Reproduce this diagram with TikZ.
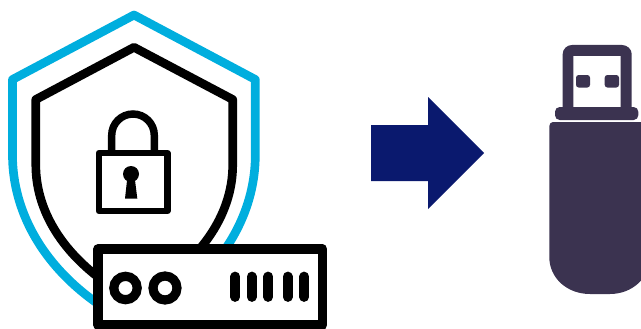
\documentclass[tikz,border=0pt]{standalone}
\definecolor{shieldblue}{RGB}{0,174,222}
\definecolor{navyarrow}{RGB}{10,25,110}
\definecolor{usbdark}{RGB}{59,51,80}
\tikzset{
  x=0.75pt,y=-0.75pt,
  blk/.style={draw=black,line join=round}
}
\begin{document}
\begin{tikzpicture}
\useasboundingbox (0,0) rectangle (641,328);
\clip (0,0) rectangle (641,328);
% blue shield
\draw[draw=shieldblue,line width=6.5pt,line join=round]
  (12.5,79.5) -- (134,15) -- (255.3,79.5) -- (255.3,155)
  .. controls (255.3,220) and (215,285) .. (134,325)
  .. controls (53,285) and (12.5,220) .. (12.5,155) -- cycle;
% black shield
\draw[blk,line width=6.5pt]
  (35.8,99.5) -- (134,47.3) -- (232.7,99.5) -- (232.7,165)
  .. controls (232.7,215) and (200,265) .. (134,300)
  .. controls (68,265) and (35.8,215) .. (35.8,165) -- cycle;
% lock
\draw[blk,line width=4.6pt] (98.7,153) rectangle (167.5,211);
\draw[black,line width=5.6pt] (111.7,150) -- (111.7,135.3) arc[start angle=180,end angle=360,radius=21.3] -- (154.3,150);
\fill[black] (131,174) circle[radius=8];
\fill[black] (127.5,176) -- (134.5,176) -- (137.3,198.5) -- (125,198.5) -- cycle;
% server
\draw[blk,line width=7.2pt,fill=white] (98,249) rectangle (322.3,325);
\draw[line width=6.9pt] (125.5,288) circle[radius=11.7];
\draw[line width=6.9pt] (165,288) circle[radius=12];
\foreach \bx in {235.3,251.7,268.3,287.7,304.3}
  \draw[line width=7.3pt,line cap=round] (\bx,276.5) -- (\bx,297);
% arrow
\fill[navyarrow] (371,125) -- (428,125) -- (428,97) -- (484,153) -- (428,209) -- (428,181) -- (371,181) -- cycle;
% usb
\fill[usbdark,even odd rule]
  (562.7,107) -- (562.7,54) .. controls (562.7,49) and (567,45) .. (572,45)
  -- (622,45) .. controls (627,45) and (631.7,49) .. (631.7,54) -- (631.7,107) -- cycle
  (573.3,56) rectangle (620.7,107);
\fill[usbdark,rounded corners=2pt] (576,75) rectangle (590,87.5);
\fill[usbdark,rounded corners=2pt] (604.7,75) rectangle (619,87.5);
\fill[usbdark,rounded corners=3.5pt] (555,107) rectangle (638.3,120);
\fill[usbdark] (549.3,126) .. controls (549.3,124) and (551,122) .. (553,122) -- (648,122)
  -- (650,257) .. controls (650,278) and (632,294) .. (610,294)
  -- (590,294) .. controls (567,294) and (549.3,278) .. (549.3,257) -- cycle;
\end{tikzpicture}
\end{document}
